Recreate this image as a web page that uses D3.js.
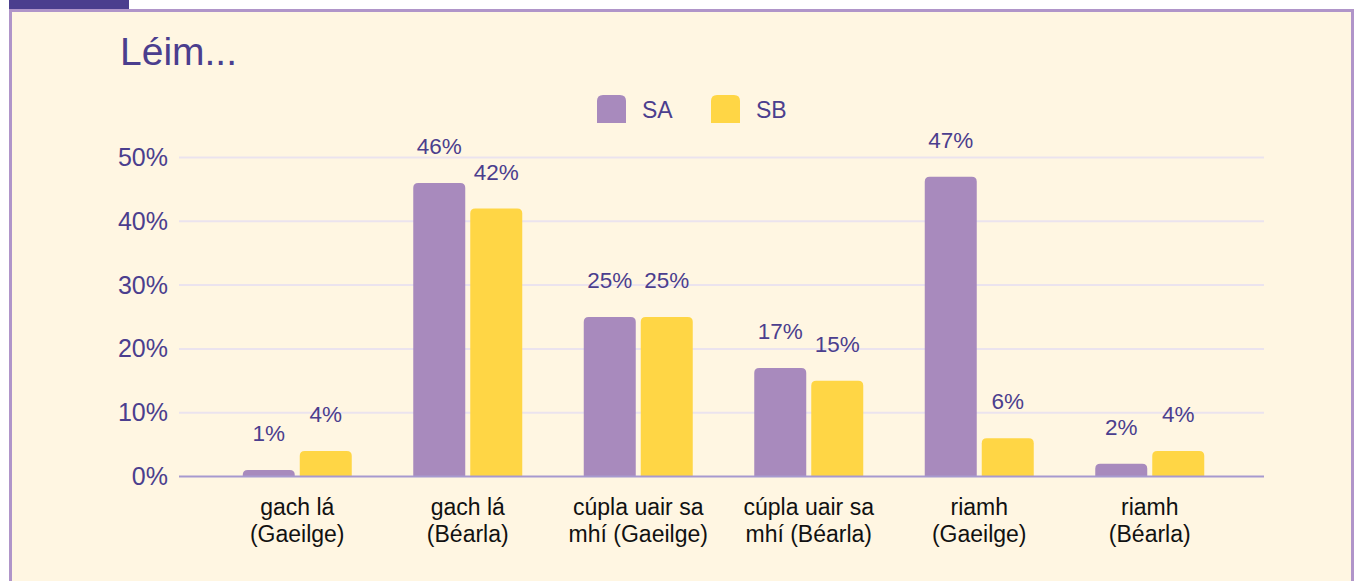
<!DOCTYPE html>
<html>
<head>
<meta charset="utf-8">
<script src="https://cdn.jsdelivr.net/npm/d3@7"></script>
<style>
  html, body { margin: 0; padding: 0; background: #ffffff; }
  svg { display: block; font-family: "Liberation Sans", Arial, sans-serif; }
</style>
</head>
<body>
<svg id="chart"></svg>
<script>
var WIDTH = 1356;
var HEIGHT = 581;

var categories = [
    ["gach lá", "(Gaeilge)"],
    ["gach lá", "(Béarla)"],
    ["cúpla uair sa", "mhí (Gaeilge)"],
    ["cúpla uair sa", "mhí (Béarla)"],
    ["riamh", "(Gaeilge)"],
    ["riamh", "(Béarla)"]
];
var seriesNames = ["SA", "SB"];
var valuesSA = [1, 46, 25, 17, 47, 2];
var valuesSB = [4, 42, 25, 15, 6, 4];
var yTicks = [0, 10, 20, 30, 40, 50];

var COLORS = { SA: "#a88abd", SB: "#ffd645" };
var TEXT_PURPLE = "#4b3e8e";

var svg = d3.select("#chart")
    .attr("width", WIDTH)
    .attr("height", HEIGHT);

// panel + cut-off header tab
svg.append("rect")
    .attr("x", 9).attr("y", 0).attr("width", 120).attr("height", 10)
    .attr("fill", "#4b3e8e");

svg.append("rect")
    .attr("x", 10.5).attr("y", 10.5)
    .attr("width", 1342).attr("height", 600)
    .attr("fill", "#fff6e2")
    .attr("stroke", "#b095c9")
    .attr("stroke-width", 3);

svg.append("text")
    .attr("x", 120).attr("y", 65)
    .attr("font-size", 39)
    .attr("fill", TEXT_PURPLE)
    .text("Léim...");

var x = d3.scaleBand()
    .domain(d3.range(categories.length))
    .range([212, 1235]);

var y = d3.scaleLinear()
    .domain([0, 50])
    .range([476.5, 157.5]);

// grid
svg.append("g")
    .selectAll("line")
    .data(yTicks.filter(function(d) { return d > 0; }))
    .enter().append("line")
    .attr("x1", 179).attr("x2", 1264)
    .attr("y1", function(d) { return y(d); })
    .attr("y2", function(d) { return y(d); })
    .attr("stroke", "#ebe3ee")
    .attr("stroke-width", 2);

// y axis labels
svg.append("g")
    .selectAll("text")
    .data(yTicks)
    .enter().append("text")
    .attr("x", 168)
    .attr("y", function(d) { return y(d) + 8.5; })
    .attr("text-anchor", "end")
    .attr("font-size", 25)
    .attr("fill", TEXT_PURPLE)
    .text(function(d) { return d + "%"; });

// bars
var BAR_W = 52, GAP = 5, R = 5;

function topRounded(x0, y0, w, h, r) {
    r = Math.min(r, h, w / 2);
    return "M" + x0 + "," + (y0 + h) +
        "V" + (y0 + r) +
        "Q" + x0 + "," + y0 + " " + (x0 + r) + "," + y0 +
        "H" + (x0 + w - r) +
        "Q" + (x0 + w) + "," + y0 + " " + (x0 + w) + "," + (y0 + r) +
        "V" + (y0 + h) + "Z";
}

var barData = [];
categories.forEach(function(c, i) {
    var cx = x(i) + x.bandwidth() / 2;
    barData.push({ s: "SA", v: valuesSA[i], x0: cx - GAP / 2 - BAR_W });
    barData.push({ s: "SB", v: valuesSB[i], x0: cx + GAP / 2 });
});

svg.append("g")
    .selectAll("path")
    .data(barData)
    .enter().append("path")
    .attr("d", function(d) {
        return topRounded(d.x0, y(d.v), BAR_W, y(0) - y(d.v), R);
    })
    .attr("fill", function(d) { return COLORS[d.s]; });

svg.append("g")
    .selectAll("text")
    .data(barData)
    .enter().append("text")
    .attr("x", function(d) { return d.x0 + BAR_W / 2; })
    .attr("y", function(d) { return y(d.v) - 29; })
    .attr("text-anchor", "middle")
    .attr("font-size", 22.5)
    .attr("fill", TEXT_PURPLE)
    .text(function(d) { return d.v + "%"; });

// baseline
svg.append("line")
    .attr("x1", 179).attr("x2", 1264)
    .attr("y1", y(0)).attr("y2", y(0))
    .attr("stroke", "#a799cf")
    .attr("stroke-width", 2);

// category labels
var cat = svg.append("g")
    .selectAll("text")
    .data(categories)
    .enter().append("text")
    .attr("text-anchor", "middle")
    .attr("font-size", 23)
    .attr("fill", "#111111");

cat.selectAll("tspan")
    .data(function(d, i) { return d.map(function(t) { return { t: t, i: i }; }); })
    .enter().append("tspan")
    .attr("x", function(d) { return x(d.i) + x.bandwidth() / 2; })
    .attr("y", function(d, j) { return 515 + j * 27; })
    .text(function(d) { return d.t; });

// legend
var legendX = [597, 711];
var lg = svg.append("g")
    .selectAll("g")
    .data(seriesNames)
    .enter().append("g");

lg.append("path")
    .attr("d", function(d, i) { return topRounded(legendX[i], 95, 29, 28, 6); })
    .attr("fill", function(d) { return COLORS[d]; });

lg.append("text")
    .attr("x", function(d, i) { return legendX[i] + 45; })
    .attr("y", 117.5)
    .attr("font-size", 23)
    .attr("fill", TEXT_PURPLE)
    .text(function(d) { return d; });
</script>
</body>
</html>
